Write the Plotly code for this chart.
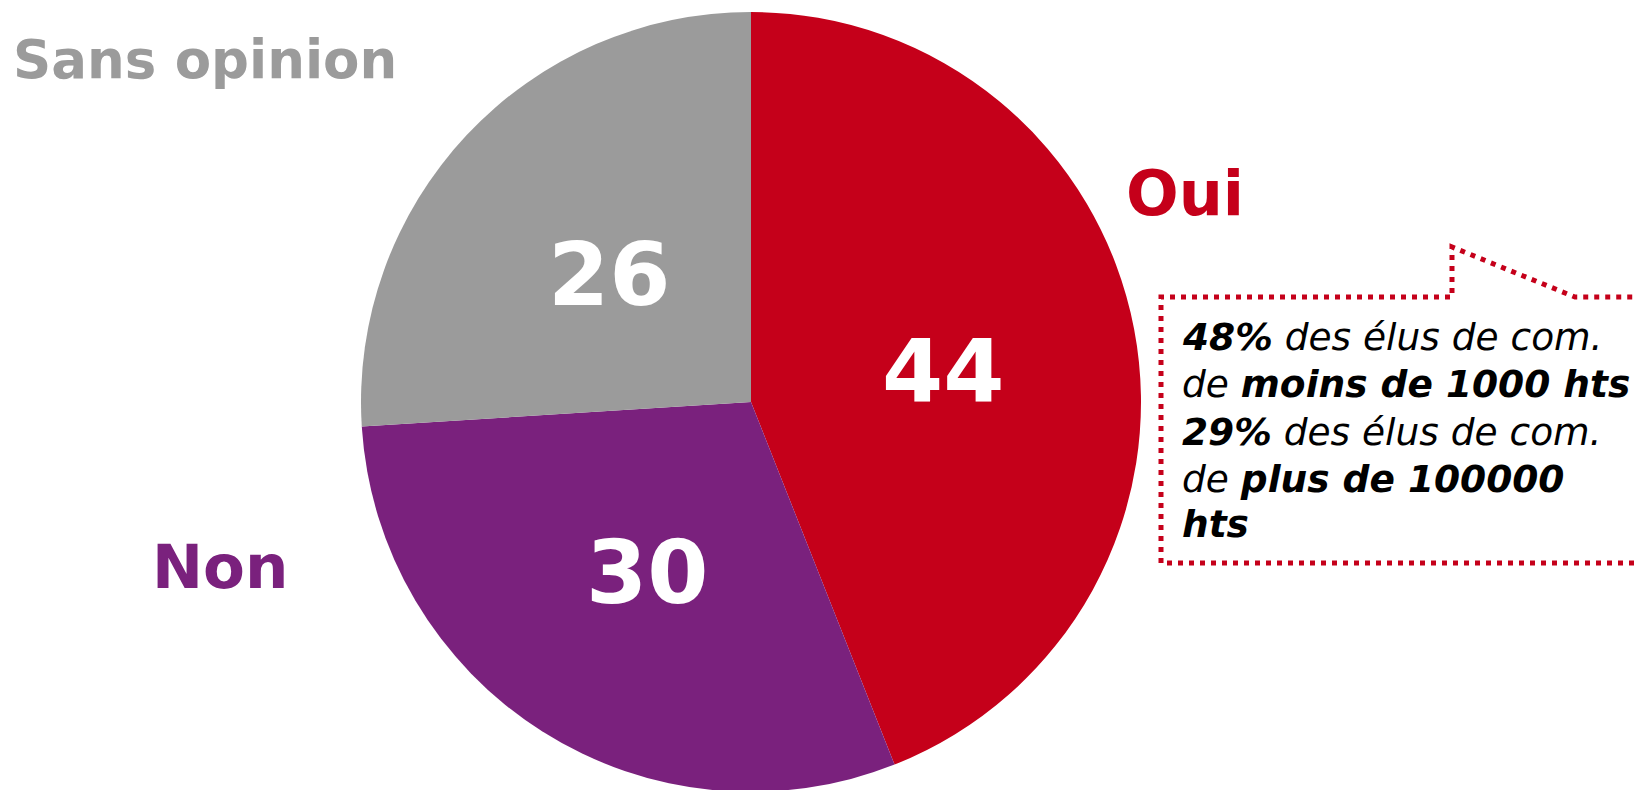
import math
import plotly.graph_objects as go

W, H = 1646, 790
OFF = 8  # default page body margin in the browser

categories = ["Oui", "Non", "Sans opinion"]
values = [44, 30, 26]
colors = ["#C5001A", "#7A217D", "#9B9B9B"]

callout_lines = [
    "<b>48%</b> des élus de com.",
    "de <b>moins de 1000 hts</b>",
    "<b>29%</b> des élus de com.",
    "de <b>plus de 100000</b>",
    "<b>hts</b>",
]

FONT = "DejaVu Sans"

def px(x):
    return (x - OFF) / W

def py(y):
    return 1 - (y - OFF) / H

# pie geometry in page pixels
CX, CY, R = 751, 402, 390

fig = go.Figure()
fig.add_trace(go.Pie(
    labels=categories,
    values=values,
    sort=False,
    direction="clockwise",
    rotation=0,
    marker=dict(colors=colors, line=dict(width=0)),
    textinfo="none",
    domain=dict(x=[px(CX - R), px(CX + R)], y=[py(CY + R), py(CY - R)]),
    showlegend=False,
    hoverinfo="label+value",
))

annotations = []

# value labels inside slices, placed at mid-angle of each slice
total = sum(values)
cum = 0
for v in values:
    mid = (cum + v / 2) / total * 2 * math.pi
    cum += v
    tx = CX + 0.5 * R * math.sin(mid)
    ty = CY - 0.5 * R * math.cos(mid) + 6
    annotations.append(dict(
        x=px(tx), y=py(ty), xref="paper", yref="paper",
        text=f"<b>{v}</b>", showarrow=False,
        xanchor="center", yanchor="middle",
        font=dict(family=FONT, size=88, color="white"),
    ))

# Category labels outside the pie
label_pos = {
    "Oui": (1185, 193, 62),
    "Non": (220, 566, 61),
    "Sans opinion": (205, 59, 53),
}
for cat, col in zip(categories, colors):
    x, y, s = label_pos[cat]
    annotations.append(dict(
        x=px(x), y=py(y), xref="paper", yref="paper",
        text=f"<b>{cat}</b>", showarrow=False,
        xanchor="center", yanchor="middle",
        font=dict(family=FONT, size=s, color=col),
    ))

# Callout text lines
line_y = [337, 384, 432, 479, 524]
for t, yy in zip(callout_lines, line_y):
    annotations.append(dict(
        x=px(1180), y=py(yy), xref="paper", yref="paper",
        text=f"<i>{t}</i>", showarrow=False,
        xanchor="left", yanchor="middle",
        font=dict(family=FONT, size=37.5, color="black"),
    ))

# Dotted callout border with notch
pts = [(1700, 563), (1161, 563), (1161, 297), (1452, 297), (1452, 247), (1575, 297), (1700, 297)]
path = "M " + " L ".join(f"{px(x)},{py(y)}" for x, y in pts)

fig.update_layout(
    width=W, height=H,
    margin=dict(l=0, r=0, t=0, b=0),
    paper_bgcolor="white",
    plot_bgcolor="white",
    annotations=annotations,
    shapes=[dict(
        type="path", xref="paper", yref="paper", path=path,
        line=dict(color="#C5001A", width=5, dash="5px,6px"),
        layer="above",
    )],
)

fig.write_html("out.html")
